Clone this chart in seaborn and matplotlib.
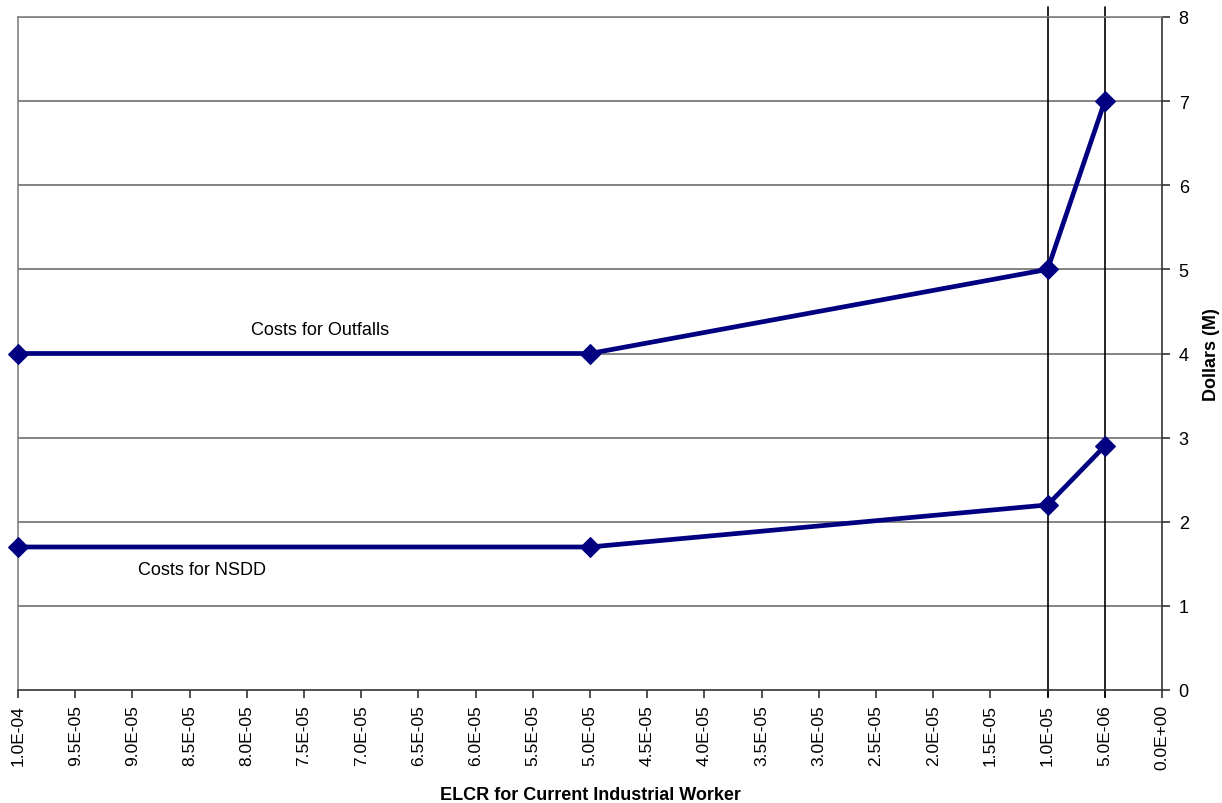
import matplotlib.pyplot as plt
import matplotlib.ticker as mticker
import numpy as np
import pandas as pd
import seaborn as sns

elcr = [1.0e-04, 5.0e-05, 1.0e-05, 5.0e-06]
outfalls = [4.0, 4.0, 5.0, 7.0]
nsdd = [1.7, 1.7, 2.2, 2.9]
xticks = np.arange(0, 21) * 5e-06
yticks = [0, 1, 2, 3, 4, 5, 6, 7, 8]
cutoffs = [1.0e-05, 5.0e-06]

df = pd.DataFrame({
    "elcr": elcr * 2,
    "cost": outfalls + nsdd,
    "series": ["Costs for Outfalls"] * 4 + ["Costs for NSDD"] * 4,
})

sns.set_style("white")
plt.rcParams['font.family'] = ['Liberation Sans', 'DejaVu Sans']
plt.rcParams['text.color'] = 'black'
plt.rcParams['xtick.color'] = 'black'
plt.rcParams['ytick.color'] = 'black'
plt.rcParams['axes.labelcolor'] = 'black'

fig = plt.figure(figsize=(12.22, 8.04), dpi=100)
ax = fig.add_axes([18 / 1222, 1 - 691 / 804, 1144 / 1222, 673 / 804])

for y in yticks[1:]:
    ax.axhline(y, color="#6e6e6e", lw=1.2, zorder=1)
for x in cutoffs:
    ax.axvline(x, ymin=-0.01, ymax=1.015, color="black", lw=1.2, clip_on=False, zorder=1)

sns.lineplot(data=df, x="elcr", y="cost", hue="series",
             palette=["#000080", "#000080"], marker="D", markersize=10,
             markeredgecolor="#000080", linewidth=3.4, legend=False,
             ax=ax, zorder=3, clip_on=False)


def sci(v, pos):
    if abs(v) < 1e-12:
        return "0.0E+00"
    return "%.1E" % v


ax.set_xlim(1.0e-04, 0.0)
ax.set_ylim(0, 8)
ax.set_xticks(xticks)
ax.xaxis.set_major_formatter(mticker.FuncFormatter(sci))
plt.setp(ax.get_xticklabels(), rotation=90)

ax.yaxis.tick_right()
ax.yaxis.set_label_position("right")
ax.set_yticks(yticks)

ax.tick_params(axis="x", direction="out", length=6, width=1.2, color="#333333",
               labelsize=12.5, pad=4, bottom=True)
ax.tick_params(axis="y", direction="out", length=6, width=1.2, color="#333333",
               labelsize=13, pad=6, right=True, left=False)

for side in ["left", "top"]:
    ax.spines[side].set_color("#808080")
    ax.spines[side].set_linewidth(1.2)
for side in ["right", "bottom"]:
    ax.spines[side].set_color("#333333")
    ax.spines[side].set_linewidth(1.2)

ax.set_xlabel("ELCR for Current Industrial Worker", fontsize=13, fontweight="bold", labelpad=12)
ax.set_ylabel("Dollars (M)", fontsize=13, fontweight="bold", labelpad=10)

ax.text(7.36e-05, 4.29, "Costs for Outfalls", fontsize=13, ha="center", va="center")
ax.text(8.39e-05, 1.43, "Costs for NSDD", fontsize=13, ha="center", va="center")

fig.savefig("out.png", dpi=100)
